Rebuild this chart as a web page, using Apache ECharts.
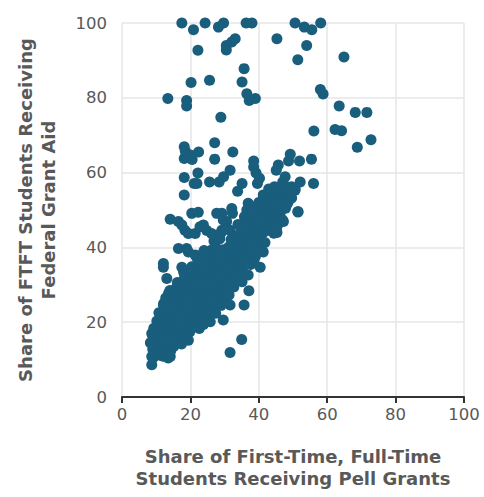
<!DOCTYPE html>
<html>
<head>
<meta charset="utf-8">
<script src="https://cdn.jsdelivr.net/npm/echarts@6/dist/echarts.min.js"></script>
<style>
  html, body { margin: 0; padding: 0; background: #fff; }
  #chart { width: 484px; height: 497px; }
</style>
</head>
<body>
<div id="chart"></div>
<script>
// [pell share, federal grant share]
var topPoints = [
  [17.5,100],[20.9,98.2],[24.3,100],[28.2,98.9],[29.7,100],[36.3,100],[38.0,100],
  [50.6,100],[53.3,98.9],[55.5,98.2],[58.1,100],[45.3,95.8],[54.0,94.0],[33.1,95.8],
  [32.1,94.9],[30.5,94.0],[30.5,92.8],[22.2,92.7],[51.4,90.2],[64.9,90.9],[35.7,87.8],
  [20.2,84.1],[25.6,84.7],[35.1,84.2],[36.5,81.1],[37.2,79.3],[39.0,79.8],[13.4,79.8],
  [18.9,79.3],[18.9,77.8],[58.0,82.2],[58.8,81.0],[28.9,74.8],[63.5,77.8],[68.2,76.1],
  [71.6,76.1],[56.1,71.1],[62.3,71.5],[64.2,71.2],[68.8,66.8],[72.8,68.8]
];

var upperPoints = [
  [18.2,66.9],[18.5,65.8],[20.0,64.7],[22.4,65.5],[18.2,63.8],[20.5,63.5],[27.1,68.0],
  [27.1,63.6],[32.4,65.5],[38.5,63.1],[38.5,61.5],[39.2,59.9],[40.2,58.5],[39.6,57.1],
  [49.2,64.9],[48.7,63.1],[51.9,63.1],[55.4,63.6],[45.7,62.0],[45.1,60.6],[47.7,58.9],
  [47.0,57.5],[52.1,57.5],[50.6,55.7],[56.0,57.1],[43.1,55.1],[41.9,53.1],[43.8,52.6],
  [48.7,52.6],[51.4,49.5],[37.5,50.8],[22.2,59.9],[18.2,58.7],[21.1,57.1],[21.9,57.1],
  [25.6,57.5],[28.4,57.5],[29.7,58.9],[31.6,60.6],[35.1,57.1],[33.8,55.0],[18.2,54.0],
  [41.3,54.0],[43.3,54.9],[40.8,52.2],[42.3,50.9],[44.2,53.1],[45.2,51.3],[46.7,51.8],
  [48.6,52.2],[46.2,49.1],[47.2,46.9],[44.2,48.2],[41.8,48.2],[39.9,49.5],[37.9,50.9],
  [36.5,50.0],[36.9,51.8],[51.5,49.5],[45.2,44.2],[50.6,55.3],[49.6,56.2],[45.3,44.0]
];

var lobePoints = [
  [14.1,47.5],[16.5,46.9],[17.5,46.0],[18.4,44.6],[19.4,43.7],[20.4,49.1],[22.3,49.4],
  [21.4,43.7],[22.8,45.5],[23.8,46.0],[24.8,44.5],[26.2,43.7],[27.7,42.8],[29.2,49.1],
  [29.2,44.6],[30.6,46.9],[32.1,50.4],[32.3,49.1],[31.6,44.6],[33.0,42.8],[36.0,47.3],
  [37.4,50.4],[27.7,49.1],[29.6,47.3],[16.5,39.7],[18.9,39.7],[19.4,38.8],[21.4,38.0],
  [12.1,35.7],[12.1,34.7],[17.5,34.7],[18.0,33.5],[13.1,31.7],[13.6,27.7],[15.6,28.1],
  [11.1,22.4],[8.7,17.0],[8.7,10.8],[8.7,8.6],[14.1,10.8],[19.4,15.2],[22.4,18.8],
  [25.8,20.1],[29.6,20.6],[35.0,15.4],[31.6,11.9],[31.6,24.6],[35.7,24.6],[40.4,34.7],
  [37.1,28.4],[41.3,38.8],[26.2,39.3],[26.2,36.2],[12.2,25.0],[14.1,24.1]
];

var corePoints = [
  [9.2,10.6],[10.5,11.2],[12.0,10.9],[13.5,10.4],[11.3,12.4],
  [9.0,12.8],[10.4,13.1],[12.6,12.7],[14.2,12.2],[15.1,13.5],[13.4,14.0],
  [8.3,14.5],[9.8,14.9],[11.5,14.6],[13.0,15.6],[14.6,15.0],[16.2,14.7],[17.4,14.2],
  [8.9,16.6],[10.6,16.9],[12.1,16.3],[13.7,17.2],[15.4,16.6],[17.0,16.9],[18.6,16.2],[19.8,17.4],
  [9.3,18.4],[11.2,18.9],[12.8,18.2],[14.5,19.1],[16.1,18.6],[17.8,19.2],[19.4,18.7],[21.0,18.9],[22.6,18.3],[23.8,19.4],
  [10.2,20.3],[11.9,20.8],[13.6,20.4],[15.3,21.0],[17.0,20.5],[18.7,21.2],[20.3,20.6],[22.0,21.1],[23.6,20.7],[25.1,21.3],
  [10.8,22.5],[12.6,22.9],[14.3,22.3],[16.0,23.1],[17.7,22.6],[19.4,23.2],[21.1,22.7],[22.8,23.3],[24.5,22.8],[26.1,23.0],[27.4,22.4],
  [12.1,24.6],[13.9,25.0],[15.6,24.4],[17.3,25.2],[19.0,24.7],[20.7,25.3],[22.4,24.8],[24.1,25.4],[25.8,24.9],[27.4,25.2],[29.0,24.5],[30.1,25.6],
  [12.8,26.5],[14.6,27.0],[16.3,26.4],[18.0,27.2],[19.7,26.7],[21.4,27.3],[23.1,26.8],[24.8,27.4],[26.5,26.9],[28.2,27.5],[29.8,26.8],[31.3,27.3],
  [14.0,28.5],[15.8,29.1],[17.5,28.6],[19.2,29.3],[20.9,28.8],[22.6,29.4],[24.3,28.9],[26.0,29.5],[27.7,29.0],[29.4,29.6],[31.0,28.9],[32.7,29.4],
  [16.2,30.6],[18.0,31.2],[19.8,30.7],[21.5,31.4],[23.2,30.9],[24.9,31.5],[26.6,31.0],[28.3,31.6],[30.0,31.1],[31.7,31.7],[33.4,31.2],[35.1,30.8],
  [18.3,32.7],[20.1,33.3],[21.9,32.8],[23.6,33.5],[25.3,33.0],[27.0,33.6],[28.7,33.1],[30.4,33.7],[32.1,33.2],[33.8,33.8],[35.5,33.3],[36.9,32.6],
  [20.4,34.8],[22.2,35.4],[24.0,34.9],[25.7,35.6],[27.4,35.1],[29.1,35.7],[30.8,35.2],[32.5,35.8],[34.2,35.3],[35.9,35.9],[37.6,35.4],[38.6,36.6],
  [22.0,37.0],[23.8,37.6],[25.6,37.1],[27.3,37.8],[29.0,37.3],[30.7,37.9],[32.4,37.4],[34.1,38.0],[35.8,37.5],[37.5,38.1],[39.0,37.6],
  [24.0,39.2],[27.6,39.8],[29.5,39.4],[31.2,40.1],[33.0,39.6],[34.7,40.3],[36.4,39.8],[38.1,40.4],[39.8,40.0],[40.8,38.9],
  [26.9,41.7],[28.6,42.3],[31.9,42.1],[33.7,41.8],[35.4,42.4],[37.1,41.9],[38.8,42.5],[40.5,42.0],[41.8,41.3],
  [29.0,44.0],[34.5,43.7],[36.2,44.4],[37.9,43.9],[39.6,44.5],[41.3,44.0],[43.0,44.6],[44.4,43.8],
  [33.9,46.1],[35.6,45.6],[37.3,46.3],[39.0,45.8],[40.7,46.4],[42.4,45.9],[44.1,46.5],[45.4,45.7],
  [35.8,48.2],[37.5,47.7],[39.2,48.4],[40.9,47.9],[42.6,48.5],[44.3,48.0],[46.0,48.6],[46.9,47.4],
  [37.9,50.1],[39.6,49.6],[41.3,50.3],[43.0,49.8],[44.7,50.4],[46.4,49.9],[47.8,50.5],
  [40.0,52.0],[41.7,51.5],[43.4,52.2],[45.1,51.7],[46.8,52.3],[48.3,51.6],
  [41.6,53.9],[43.3,53.4],[45.0,54.1],[46.7,53.6],[48.4,54.2],[49.6,53.2],
  [42.9,55.6],[44.6,56.2],[46.3,55.7],[48.0,56.3]
];

var xTicks = [0, 20, 40, 60, 80, 100];
var yTicks = [0, 20, 40, 60, 80, 100];

var allPoints = topPoints.concat(upperPoints, lobePoints, corePoints);

var chart = echarts.init(document.getElementById('chart'), null, { renderer: 'svg' });
var textColor = '#595959';
var dotColor = '#1a5e7e';
var fontFamily = '"DejaVu Sans", sans-serif';

chart.setOption({
  animation: false,
  textStyle: { fontFamily: fontFamily },
  grid: { left: 122, right: 20, top: 23, bottom: 100 },
  xAxis: {
    type: 'value',
    min: xTicks[0],
    max: xTicks[xTicks.length - 1],
    interval: xTicks[1] - xTicks[0],
    name: 'Share of First-Time, Full-Time\nStudents Receiving Pell Grants',
    nameLocation: 'middle',
    nameGap: 48,
    nameTextStyle: { fontSize: 18, fontWeight: 'bold', color: textColor, lineHeight: 22, fontFamily: fontFamily },
    axisLine: { show: true, lineStyle: { color: '#333', width: 2 } },
    axisTick: { show: true, length: 6, lineStyle: { color: '#333', width: 2 } },
    axisLabel: { fontSize: 16.5, color: textColor, margin: 9, fontFamily: fontFamily },
    splitLine: { show: true, lineStyle: { color: '#e6e6e6', width: 1.5 } }
  },
  yAxis: {
    type: 'value',
    min: yTicks[0],
    max: yTicks[yTicks.length - 1],
    interval: yTicks[1] - yTicks[0],
    name: 'Share of FTFT Students Receiving\nFederal Grant Aid',
    nameLocation: 'middle',
    nameGap: 62,
    nameTextStyle: { fontSize: 18, fontWeight: 'bold', color: textColor, lineHeight: 23, fontFamily: fontFamily },
    axisLine: { show: false },
    axisTick: { show: false },
    axisLabel: { fontSize: 16.5, color: textColor, margin: 15, fontFamily: fontFamily },
    splitLine: { show: true, lineStyle: { color: '#e6e6e6', width: 1.5 } }
  },
  series: [{
    type: 'scatter',
    symbol: 'circle',
    symbolSize: 11,
    itemStyle: { color: dotColor, opacity: 1, borderWidth: 0 },
    emphasis: { disabled: true },
    data: allPoints
  }]
});
</script>
</body>
</html>
